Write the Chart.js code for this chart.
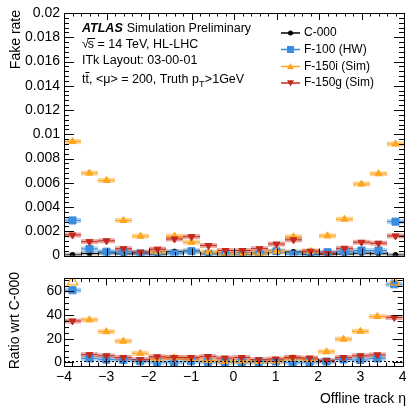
<!DOCTYPE html>
<html>
<head>
<meta charset="utf-8">
<script src="https://cdn.jsdelivr.net/npm/chart.js@4.4.1/dist/chart.umd.min.js"></script>
<style>
    html, body { margin: 0; padding: 0; background: #fff; }
    #wrap { position: relative; width: 410px; height: 408px; }
    canvas { position: absolute; left: 0; }
    #top-chart { top: 0; }
    #ratio-chart { top: 268px; }
</style>
</head>
<body>
<div id="wrap">
    <canvas id="top-chart" width="410" height="268"></canvas>
    <canvas id="ratio-chart" width="410" height="140"></canvas>
</div>
<script>
// bin centres in eta (bin width 0.4)
const etaBins = [-3.8, -3.4, -3.0, -2.6, -2.2, -1.8, -1.4, -1.0, -0.6, -0.2,
                 0.2, 0.6, 1.0, 1.4, 1.8, 2.2, 2.6, 3.0, 3.4, 3.8];
const binHalfWidth = 0.2;

// fake rate per layout
const fakeC000  = [0.00005, 0.00017, 0.00022, 0.00015, 0.0002, 0.0001, 0.00033, 0.00037, 0.00016, 0.0001,
                   0.00009, 0.00022, 0.00032, 0.0003, 0.00009, 0.00009, 0.00013, 0.00019, 0.00016, 0.00004];
const fakeF100  = [0.0029, 0.00055, 0.00032, 0.00032, 0.00018, 0.00005, 0.00015, 0.00036, 0.00014, 0.00004,
                   0.00004, 0.00012, 0.00035, 0.00008, 0.00004, 0.00028, 0.00034, 0.00042, 0.00042, 0.0028];
const fakeF150i = [0.0094, 0.0068, 0.0062, 0.0029, 0.0016, 0.00032, 0.0016, 0.0011, 0.0003, 0.0001,
                   0.00014, 0.00014, 0.00035, 0.00155, 0.00035, 0.00163, 0.003, 0.0059, 0.00675, 0.0092];
const fakeF150g = [0.0017, 0.00115, 0.00122, 0.00057, 0.00028, 0.00053, 0.00137, 0.00156, 0.00083, 0.00042,
                   0.00042, 0.00057, 0.00095, 0.0013, 0.00036, 0.00018, 0.0006, 0.0011, 0.00102, 0.00162];

// ratio wrt C-000
const ratioF100  = [61, 3.4, 2.4, 2.1, 1, 0.4, 0.4, 1, 0.5, 0.2,
                    0.2, 0.5, 0.8, 0.1, 0.3, 0.8, 2.5, 2.1, 3.4, 66];
const ratioF150i = [null, 36, 26, 18, 7.7, 3, 4, 3, 1.7, 0.8,
                    1.2, 0.8, 1.2, 3.4, 2.4, 9, 19.7, 26.3, 38.8, null];
const ratioF150g = [35, 6.6, 5.6, 4.2, 2.4, 4.8, 4.2, 4.2, 5, 3.7,
                    4.2, 2.4, 2.9, 4.2, 3.7, 1.6, 4.2, 5.6, 6.4, 38];
// F-150i points above the ratio range, drawn at the top edge
const ratioF150iOff = [68, null, null, null, null, null, null, null, null, null,
                       null, null, null, null, null, null, null, null, null, 68];

const xTicks = [-4, -3, -2, -1, 0, 1, 2, 3, 4];
const yTicksTop = [0, 0.002, 0.004, 0.006, 0.008, 0.01, 0.012, 0.014, 0.016, 0.018, 0.02];
const yTicksRatio = [0, 20, 40, 60];

const FONT = '"Liberation Sans", Arial, sans-serif';
const BLACK = '#000000';
const BLUE = '#3b8ede';
const ORANGE = '#ffa51f';
const RED = '#c42a1c';

const toPoints = vals => etaBins.map((x, i) => ({ x: x, y: vals[i] }));

function series(label, vals, color, band, style, radius, rotation, order) {
    return {
        label: label,
        data: toPoints(vals),
        borderColor: color,
        backgroundColor: color,
        band: band,
        pointStyle: style,
        pointRadius: radius,
        pointRotation: rotation,
        borderWidth: 1,
        showLine: false,
        order: order
    };
}

// horizontal bin-width bars with a light band behind each point
const binBars = {
    id: 'binBars',
    beforeDatasetsDraw(chart) {
        const ctx = chart.ctx;
        const xs = chart.scales.x, ys = chart.scales.y;
        const a = chart.chartArea;
        ctx.save();
        ctx.beginPath();
        ctx.rect(a.left, a.top, a.right - a.left, a.bottom - a.top);
        ctx.clip();
        chart.data.datasets.forEach(ds => {
            if (!ds.band) return;
            ds.data.forEach(p => {
                if (p.y == null) return;
                const x0 = xs.getPixelForValue(p.x - binHalfWidth);
                const x1 = xs.getPixelForValue(p.x + binHalfWidth);
                const y = ys.getPixelForValue(p.y);
                ctx.fillStyle = ds.band;
                ctx.fillRect(x0, y - 2.5, x1 - x0, 5);
                ctx.strokeStyle = ds.borderColor;
                ctx.lineWidth = 1;
                ctx.beginPath();
                ctx.moveTo(x0, y);
                ctx.lineTo(x1, y);
                ctx.stroke();
            });
        });
        ctx.restore();
    }
};

// ROOT style frame with inward ticks on all four sides
const frameTicks = {
    id: 'frameTicks',
    afterDraw(chart, args, opts) {
        const ctx = chart.ctx;
        const a = chart.chartArea;
        const xs = chart.scales.x, ys = chart.scales.y;
        ctx.save();
        ctx.strokeStyle = '#000';
        ctx.lineWidth = 1;
        ctx.strokeRect(Math.round(a.left) + 0.5, Math.round(a.top) + 0.5,
                       Math.round(a.right - a.left), Math.round(a.bottom - a.top));
        ctx.beginPath();
        const nx = Math.round((xs.max - xs.min) / opts.xMinor);
        for (let i = 0; i <= nx; i++) {
            const v = xs.min + i * opts.xMinor;
            const major = Math.abs(v / opts.xMajor - Math.round(v / opts.xMajor)) < 1e-6;
            const len = major ? opts.xMajorLen : opts.xMinorLen;
            const px = Math.round(xs.getPixelForValue(v)) + 0.5;
            ctx.moveTo(px, a.bottom); ctx.lineTo(px, a.bottom - len);
            ctx.moveTo(px, a.top); ctx.lineTo(px, a.top + len);
        }
        const start = Math.ceil(ys.min / opts.yMinor - 1e-6);
        const end = Math.floor(ys.max / opts.yMinor + 1e-6);
        for (let i = start; i <= end; i++) {
            const v = i * opts.yMinor;
            const major = Math.abs(v / opts.yMajor - Math.round(v / opts.yMajor)) < 1e-6;
            const len = major ? opts.yMajorLen : opts.yMinorLen;
            const py = Math.round(ys.getPixelForValue(v)) + 0.5;
            ctx.moveTo(a.left, py); ctx.lineTo(a.left + len, py);
            ctx.moveTo(a.right, py); ctx.lineTo(a.right - len, py);
        }
        ctx.stroke();
        if (opts.refLine != null) {
            const py = Math.round(ys.getPixelForValue(opts.refLine)) + 0.5;
            ctx.setLineDash([2, 2]);
            ctx.beginPath();
            ctx.moveTo(a.left, py);
            ctx.lineTo(a.right, py);
            ctx.stroke();
        }
        ctx.restore();
    }
};

function drawMarker(ctx, style, x, y, r, color) {
    ctx.fillStyle = color;
    ctx.beginPath();
    if (style === 'circle') {
        ctx.arc(x, y, r, 0, Math.PI * 2);
    } else if (style === 'rect') {
        ctx.rect(x - r, y - r, 2 * r, 2 * r);
    } else if (style === 'up') {
        ctx.moveTo(x, y - r); ctx.lineTo(x + r, y + r * 0.8); ctx.lineTo(x - r, y + r * 0.8);
    } else {
        ctx.moveTo(x, y + r); ctx.lineTo(x + r, y - r * 0.8); ctx.lineTo(x - r, y - r * 0.8);
    }
    ctx.closePath();
    ctx.fill();
}

const legendItems = [
    { text: 'C-000', color: BLACK, style: 'circle', r: 2.5 },
    { text: 'F-100 (HW)', color: BLUE, style: 'rect', r: 3.5 },
    { text: 'F-150i (Sim)', color: ORANGE, style: 'up', r: 3.5 },
    { text: 'F-150g (Sim)', color: RED, style: 'down', r: 3.5 }
];

const topText = {
    id: 'topText',
    afterDraw(chart) {
        const ctx = chart.ctx;
        ctx.save();
        ctx.fillStyle = '#000';
        ctx.textBaseline = 'middle';

        // y axis title
        ctx.save();
        ctx.translate(16, 10);
        ctx.rotate(-Math.PI / 2);
        ctx.textAlign = 'right';
        ctx.font = '14px ' + FONT;
        ctx.fillText('Fake rate', 0, 0);
        ctx.restore();

        ctx.textAlign = 'left';
        let x = 82;
        ctx.font = 'italic bold 12.5px ' + FONT;
        ctx.fillText('ATLAS', x, 29);
        x += ctx.measureText('ATLAS').width + 4;
        ctx.font = '12.5px ' + FONT;
        ctx.fillText('Simulation Preliminary', x, 29);

        // sqrt(s) line
        x = 82;
        ctx.fillText('\u221A', x, 45);
        const rw = ctx.measureText('\u221A').width;
        const sw = ctx.measureText('s').width;
        ctx.fillText('s = 14 TeV, HL-LHC', x + rw - 1, 45);
        ctx.strokeStyle = '#000';
        ctx.lineWidth = 1;
        ctx.beginPath();
        ctx.moveTo(x + rw - 1.5, 38.5);
        ctx.lineTo(x + rw + sw, 38.5);
        ctx.stroke();

        ctx.fillText('ITk Layout: 03-00-01', 82, 61);

        // ttbar line
        const y4 = 80;
        x = 82;
        const tw = ctx.measureText('t').width;
        ctx.fillText('tt', x, y4);
        ctx.beginPath();
        ctx.moveTo(x + tw, y4 - 7.5);
        ctx.lineTo(x + 2 * tw + 0.5, y4 - 7.5);
        ctx.stroke();
        x += 2 * tw;
        const mid = ', <\u03BC> = 200, Truth p';
        ctx.fillText(mid, x, y4);
        x += ctx.measureText(mid).width;
        ctx.font = '9px ' + FONT;
        ctx.fillText('T', x, y4 + 5);
        x += ctx.measureText('T').width + 0.5;
        ctx.font = '12.5px ' + FONT;
        ctx.fillText('>1GeV', x, y4);

        // legend
        ctx.font = '12px ' + FONT;
        const rows = [33, 49.5, 66.5, 83];
        legendItems.forEach((it, i) => {
            const y = rows[i];
            ctx.strokeStyle = it.color;
            ctx.lineWidth = 1.5;
            ctx.beginPath();
            ctx.moveTo(281, y);
            ctx.lineTo(300, y);
            ctx.stroke();
            drawMarker(ctx, it.style, 290.5, y, it.r, it.color);
            ctx.fillStyle = '#000';
            ctx.fillText(it.text, 304, y);
        });
        ctx.restore();
    }
};

const ratioText = {
    id: 'ratioText',
    afterDraw(chart) {
        const ctx = chart.ctx;
        ctx.save();
        ctx.fillStyle = '#000';
        ctx.font = '14px ' + FONT;
        ctx.textBaseline = 'middle';
        ctx.save();
        ctx.translate(15, 4);
        ctx.rotate(-Math.PI / 2);
        ctx.textAlign = 'right';
        ctx.fillText('Ratio wrt C-000', 0, 0);
        ctx.restore();
        ctx.textAlign = 'right';
        ctx.fillText('Offline track \u03B7', 406, 131);
        ctx.restore();
    }
};

const tickFont = { family: FONT, size: 14 };

new Chart(document.getElementById('top-chart'), {
    type: 'scatter',
    data: {
        datasets: [
            series('C-000', fakeC000, BLACK, 'rgba(120,120,120,0.45)', 'circle', 2.5, 0, 4),
            series('F-100 (HW)', fakeF100, BLUE, 'rgba(59,142,222,0.4)', 'rect', 5, 0, 3),
            series('F-150i (Sim)', fakeF150i, ORANGE, 'rgba(255,165,31,0.45)', 'triangle', 4, 0, 2),
            series('F-150g (Sim)', fakeF150g, RED, 'rgba(196,42,28,0.4)', 'triangle', 4, 180, 1)
        ]
    },
    options: {
        responsive: false,
        animation: false,
        layout: { padding: { left: 0, right: 6, top: 13, bottom: 8 } },
        plugins: {
            legend: { display: false },
            tooltip: { enabled: false },
            frameTicks: { xMinor: 0.2, xMajor: 1, xMajorLen: 7, xMinorLen: 3.5,
                          yMinor: 0.0004, yMajor: 0.002, yMajorLen: 10, yMinorLen: 5 }
        },
        scales: {
            x: { type: 'linear', min: -4, max: 4, display: false },
            y: {
                min: 0, max: 0.02,
                afterFit: s => { s.width = 64; },
                afterBuildTicks: s => { s.ticks = yTicksTop.map(v => ({ value: v })); },
                grid: { display: false, drawTicks: false },
                border: { display: false },
                ticks: { padding: 4, color: '#000', font: tickFont,
                         callback: v => String(+v.toFixed(3)) }
            }
        }
    },
    plugins: [binBars, frameTicks, topText]
});

new Chart(document.getElementById('ratio-chart'), {
    type: 'scatter',
    data: {
        datasets: [
            series('F-100 (HW)', ratioF100, BLUE, 'rgba(59,142,222,0.4)', 'rect', 5, 0, 3),
            series('F-150i (Sim)', ratioF150i, ORANGE, 'rgba(255,165,31,0.45)', 'triangle', 4, 0, 2),
            series('F-150g (Sim)', ratioF150g, RED, 'rgba(196,42,28,0.4)', 'triangle', 4, 180, 1),
            {
                label: 'F-150i off scale',
                data: toPoints(ratioF150iOff),
                borderColor: ORANGE,
                backgroundColor: 'rgba(255,255,255,0)',
                pointStyle: 'triangle',
                pointRadius: 6,
                borderWidth: 1.3,
                showLine: false,
                order: 0
            }
        ]
    },
    options: {
        responsive: false,
        animation: false,
        layout: { padding: { left: 0, right: 6, top: 5, bottom: 0 } },
        plugins: {
            legend: { display: false },
            tooltip: { enabled: false },
            frameTicks: { xMinor: 0.2, xMajor: 1, xMajorLen: 7, xMinorLen: 3.5,
                          yMinor: 5, yMajor: 20, yMajorLen: 10, yMinorLen: 5, refLine: 1 }
        },
        scales: {
            x: {
                type: 'linear', min: -4, max: 4,
                afterFit: s => { s.height = 42; },
                afterBuildTicks: s => { s.ticks = xTicks.map(v => ({ value: v })); },
                grid: { display: false, drawTicks: false },
                border: { display: false },
                ticks: { padding: 3, color: '#000', font: tickFont, maxRotation: 0,
                         callback: v => v < 0 ? '\u2212' + Math.abs(v) : String(v) }
            },
            y: {
                min: -3, max: 71,
                afterFit: s => { s.width = 64; },
                afterBuildTicks: s => { s.ticks = yTicksRatio.map(v => ({ value: v })); },
                grid: { display: false, drawTicks: false },
                border: { display: false },
                ticks: { padding: 2, color: '#000', font: tickFont }
            }
        }
    },
    plugins: [binBars, frameTicks, ratioText]
});
</script>
</body>
</html>
